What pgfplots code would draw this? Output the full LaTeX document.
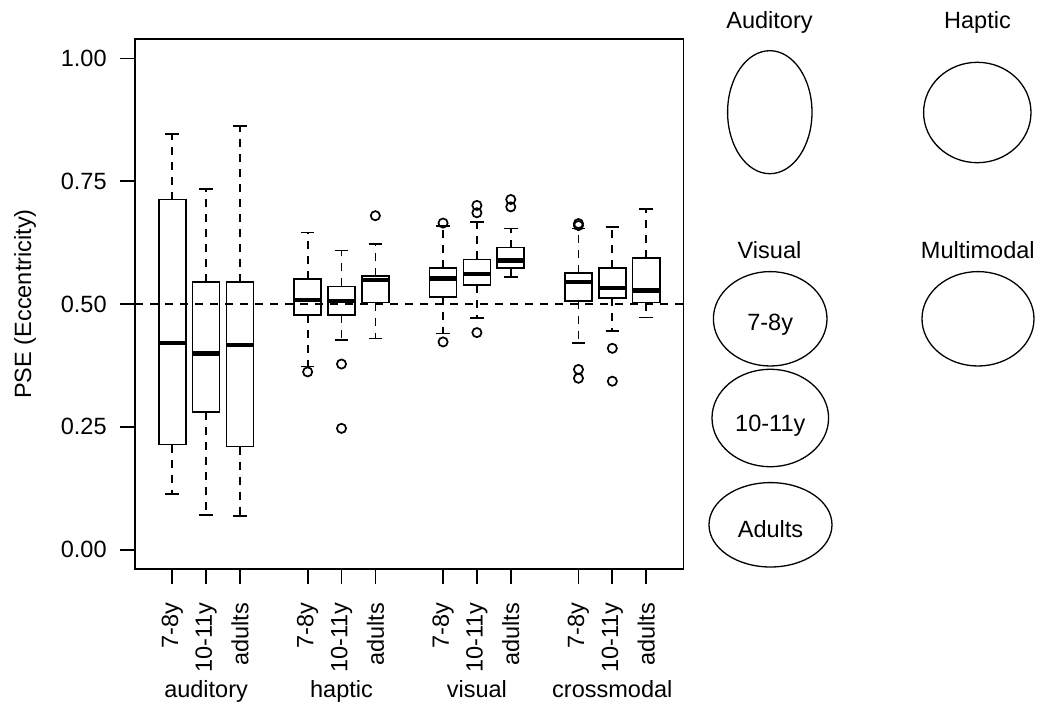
\documentclass[border=0pt]{standalone}
\usepackage{fontspec}
\setmainfont{Liberation Sans}
\usepackage{pgfplots}
\pgfplotsset{compat=1.18}
\usepgfplotslibrary{statistics}

\pgfplotsset{
  rbox/.style={
    black, line width=0.85bp, solid,
    mark=o, mark size=2.3bp, mark options={solid, line width=0.85bp},
    boxplot/draw direction=y,
    boxplot/box extend=0.8,
    boxplot/whisker extend=0.4,
    boxplot/every median/.style={line width=2.3bp},
  },
  boxplot/draw/lower whisker/.code={%
    \draw[dash pattern=on 4bp off 3.5bp]
      (boxplot box cs:\pgfplotsboxplotvalue{lower quartile},0.5) --
      (boxplot box cs:\pgfplotsboxplotvalue{lower whisker},0.5);
    \draw[solid]
      (boxplot whisker cs:\pgfplotsboxplotvalue{lower whisker},0) --
      (boxplot whisker cs:\pgfplotsboxplotvalue{lower whisker},1);
  },
  boxplot/draw/upper whisker/.code={%
    \draw[dash pattern=on 4bp off 3.5bp]
      (boxplot box cs:\pgfplotsboxplotvalue{upper quartile},0.5) --
      (boxplot box cs:\pgfplotsboxplotvalue{upper whisker},0.5);
    \draw[solid]
      (boxplot whisker cs:\pgfplotsboxplotvalue{upper whisker},0) --
      (boxplot whisker cs:\pgfplotsboxplotvalue{upper whisker},1);
  },
}

\begin{document}
\begin{tikzpicture}[x=0.5bp, y=-0.5bp, font=\fontsize{11.8}{14}\selectfont]
\useasboundingbox (0,0) rectangle (1037,715);

\begin{axis}[
    at={(67.5bp,-284.65bp)}, anchor=south west,
    scale only axis, width=274.2bp, height=265.2bp,
    xmin=-0.1, xmax=16.1, ymin=-0.04, ymax=1.04,
    clip=false,
    axis line style={line width=0.85bp},
    tick style={black, line width=0.85bp},
    tick align=outside, major tick length=7.5bp,
    xtick pos=bottom, ytick pos=left,
    xtick={1,2,3,5,6,7,9,10,11,13,14,15},
    xticklabels={7-8y,10-11y,adults,7-8y,10-11y,adults,7-8y,10-11y,adults,7-8y,10-11y,adults},
    ytick={0,0.25,0.5,0.75,1},
    yticklabels={0.00,0.25,0.50,0.75,1.00},
    xticklabel style={yshift=-9bp, rotate=90, anchor=east, inner sep=0pt},
    yticklabel style={anchor=east, inner sep=0pt, xshift=-6.5bp},
  ]
  % auditory
  \addplot[rbox, boxplot prepared={draw position=1, lower whisker=0.114, lower quartile=0.214, median=0.421, upper quartile=0.713, upper whisker=0.847}] coordinates {};
  \addplot[rbox, boxplot prepared={draw position=2, lower whisker=0.071, lower quartile=0.280, median=0.399, upper quartile=0.545, upper whisker=0.734}] coordinates {};
  \addplot[rbox, boxplot prepared={draw position=3, lower whisker=0.068, lower quartile=0.210, median=0.417, upper quartile=0.545, upper whisker=0.862}] coordinates {};
  % haptic
  \addplot[rbox, boxplot prepared={draw position=5, lower whisker=0.373, lower quartile=0.478, median=0.508, upper quartile=0.551, upper whisker=0.646}] table[row sep=\\, y index=0] {y\\ 0.362\\};
  \addplot[rbox, boxplot prepared={draw position=6, lower whisker=0.427, lower quartile=0.478, median=0.506, upper quartile=0.536, upper whisker=0.609}] table[row sep=\\, y index=0] {y\\ 0.378\\ 0.247\\};
  \addplot[rbox, boxplot prepared={draw position=7, lower whisker=0.430, lower quartile=0.503, median=0.549, upper quartile=0.557, upper whisker=0.622}] table[row sep=\\, y index=0] {y\\ 0.680\\};
  % visual
  \addplot[rbox, boxplot prepared={draw position=9, lower whisker=0.440, lower quartile=0.515, median=0.552, upper quartile=0.573, upper whisker=0.659}] table[row sep=\\, y index=0] {y\\ 0.665\\ 0.423\\};
  \addplot[rbox, boxplot prepared={draw position=10, lower whisker=0.472, lower quartile=0.539, median=0.561, upper quartile=0.591, upper whisker=0.667}] table[row sep=\\, y index=0] {y\\ 0.701\\ 0.686\\ 0.442\\};
  \addplot[rbox, boxplot prepared={draw position=11, lower whisker=0.555, lower quartile=0.573, median=0.589, upper quartile=0.615, upper whisker=0.654}] table[row sep=\\, y index=0] {y\\ 0.713\\ 0.698\\};
  % crossmodal
  \addplot[rbox, boxplot prepared={draw position=13, lower whisker=0.421, lower quartile=0.507, median=0.545, upper quartile=0.564, upper whisker=0.654}] table[row sep=\\, y index=0] {y\\ 0.664\\ 0.660\\ 0.367\\ 0.349\\};
  \addplot[rbox, boxplot prepared={draw position=14, lower whisker=0.445, lower quartile=0.512, median=0.533, upper quartile=0.573, upper whisker=0.657}] table[row sep=\\, y index=0] {y\\ 0.410\\ 0.343\\};
  \addplot[rbox, boxplot prepared={draw position=15, lower whisker=0.473, lower quartile=0.503, median=0.528, upper quartile=0.594, upper whisker=0.694}] coordinates {};

  % reference line
  \addplot[black, line width=0.85bp, dash pattern=on 4bp off 3.5bp, mark=none] coordinates {(-0.1,0.5) (16.1,0.5)};

  \node[anchor=base, yshift=-64bp] at (axis cs:2,-0.04) {auditory};
  \node[anchor=base, yshift=-64bp] at (axis cs:6,-0.04) {haptic};
  \node[anchor=base, yshift=-64bp] at (axis cs:10,-0.04) {visual};
  \node[anchor=base, yshift=-64bp] at (axis cs:14,-0.04) {crossmodal};
\end{axis}

\node[rotate=90] at (25,304) {PSE (Eccentricity)};

% stimulus illustrations
\begin{scope}[line width=0.65bp]
  \node[anchor=base] at (769.5,28.3) {Auditory};
  \node[anchor=base] at (977.5,28.3) {Haptic};
  \node[anchor=base] at (769.5,258.3) {Visual};
  \node[anchor=base] at (977.8,258.3) {Multimodal};
  \draw (769.8,112.2) ellipse [x radius=21.1bp, y radius=30.75bp];
  \draw (977.3,112.5) ellipse [x radius=26.85bp, y radius=25.1bp];
  \draw (770.2,318.8) ellipse [x radius=28.4bp, y radius=23.6bp];
  \draw (978,318.8) ellipse [x radius=28bp, y radius=23.6bp];
  \draw (770.3,418) ellipse [x radius=29.15bp, y radius=24.35bp];
  \draw (770.5,524.8) ellipse [x radius=30.75bp, y radius=21.1bp];
  \node[anchor=base] at (770.2,330) {7-8y};
  \node[anchor=base] at (770.3,431.7) {10-11y};
  \node[anchor=base] at (770.5,537.3) {Adults};
\end{scope}
\end{tikzpicture}
\end{document}
